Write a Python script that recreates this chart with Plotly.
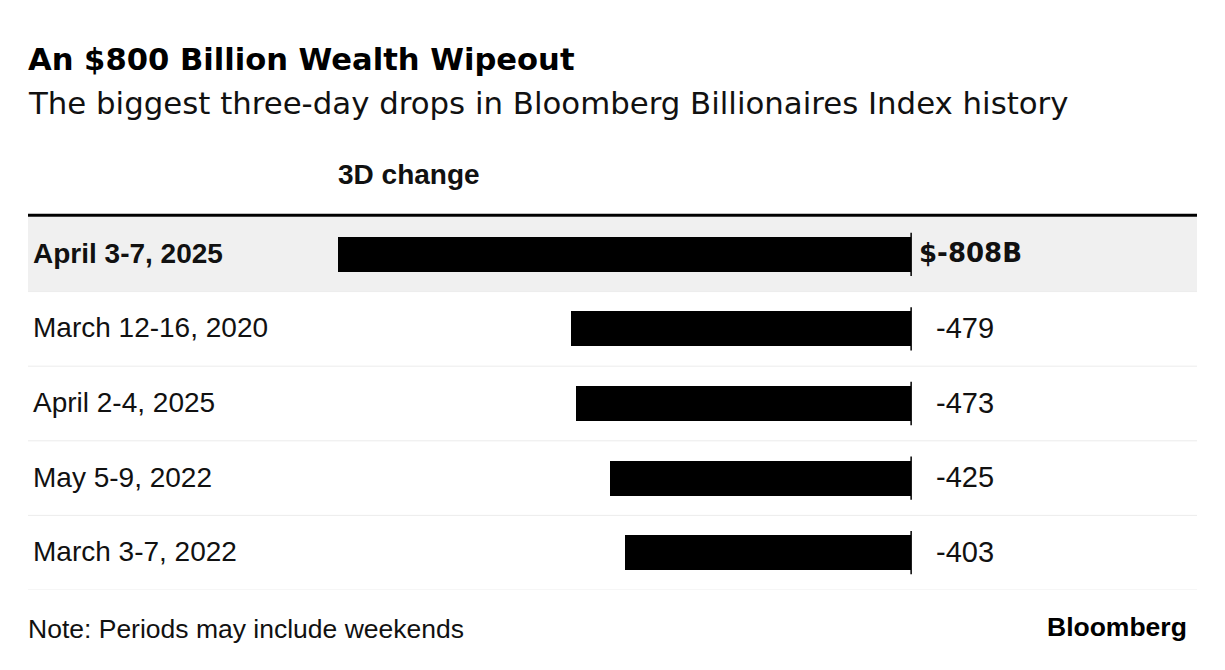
import plotly.graph_objects as go

# data
periods = ["April 3-7, 2025", "March 12-16, 2020", "April 2-4, 2025",
           "May 5-9, 2022", "March 3-7, 2022"]
change_bn = [-808, -479, -473, -425, -403]
value_labels = ["$-808B", "-479", "-473", "-425", "-403"]

title = "An $800 Billion Wealth Wipeout"
subtitle = "The biggest three-day drops in Bloomberg Billionaires Index history"
column_head = "3D change"
note = "Note: Periods may include weekends"

FONT = "Liberation Sans"
WIDE = "DejaVu Sans"
rows = list(range(len(periods)))

fig = go.Figure()
fig.add_trace(go.Bar(
    x=change_bn, y=rows, orientation="h",
    width=0.47, marker=dict(color="black", line=dict(width=0)),
    hoverinfo="skip", showlegend=False,
))

shapes = []
# grey band behind the top row
shapes.append(dict(type="rect", xref="paper", yref="y", x0=0, x1=1,
                   y0=-0.5, y1=0.5, fillcolor="#f0f0f0", line_width=0,
                   layer="below"))
# row separators
for i in rows:
    shapes.append(dict(type="line", xref="paper", yref="y", x0=0, x1=1,
                       y0=i + 0.5, y1=i + 0.5,
                       line=dict(color="#ececec", width=1)))
# heavy rule on top
shapes.append(dict(type="line", xref="paper", yref="paper", x0=0, x1=1,
                   y0=1.005, y1=1.005, line=dict(color="black", width=3)))
# zero tick on each bar
for i in rows:
    shapes.append(dict(type="line", xref="x", yref="y", x0=0, x1=0,
                       y0=i - 0.29, y1=i + 0.29,
                       line=dict(color="black", width=1.5)))

annotations = []
for i, (p, v, lab) in enumerate(zip(periods, change_bn, value_labels)):
    bold = i == 0
    annotations.append(dict(
        x=0, xref="paper", xshift=3, y=i, yref="y", yshift=1, text=p,
        xanchor="left", yanchor="middle", showarrow=False,
        font=dict(family=FONT, size=28, color="#111",
                  weight="bold" if bold else "normal")))
    annotations.append(dict(
        x=0, xref="x", xshift=6 if bold else 23, y=i, yref="y", yshift=1,
        text=lab, xanchor="left", yanchor="middle", showarrow=False,
        font=dict(family=WIDE if bold else FONT, size=26 if bold else 29,
                  color="#111", weight="bold" if bold else "normal")))

annotations.append(dict(x=change_bn[0], xref="x", xshift=-2, y=1.113,
                        yref="paper", text=column_head, xanchor="left",
                        yanchor="middle", showarrow=False,
                        font=dict(family=FONT, size=28, color="#111",
                                  weight="bold")))
annotations.append(dict(x=0, xref="paper", xshift=-2, y=1.421, yref="paper",
                        text=title, xanchor="left", yanchor="middle",
                        showarrow=False,
                        font=dict(family=WIDE, size=30.6, color="black",
                                  weight="bold")))
annotations.append(dict(x=0, xref="paper", xshift=-2, y=1.306, yref="paper",
                        text=subtitle, xanchor="left", yanchor="middle",
                        showarrow=False,
                        font=dict(family=WIDE, size=30.8, color="#111")))
annotations.append(dict(x=0, xref="paper", xshift=-2, y=-0.105, yref="paper",
                        text=note, xanchor="left", yanchor="middle",
                        showarrow=False,
                        font=dict(family=FONT, size=26.5, color="#111")))
annotations.append(dict(x=1, xref="paper", xshift=-8, y=-0.1, yref="paper",
                        text="Bloomberg", xanchor="right", yanchor="middle",
                        showarrow=False,
                        font=dict(family=FONT, size=26.5, color="black",
                                  weight="bold")))

fig.update_layout(
    width=1225, height=670,
    margin=dict(l=20, r=36, t=209, b=88),
    paper_bgcolor="white", plot_bgcolor="rgba(0,0,0,0)",
    xaxis=dict(range=[-1245, 403], visible=False, fixedrange=True),
    yaxis=dict(range=[4.5, -0.5], visible=False, fixedrange=True),
    shapes=shapes, annotations=annotations,
    bargap=0,
)

fig.write_html("out.html")
